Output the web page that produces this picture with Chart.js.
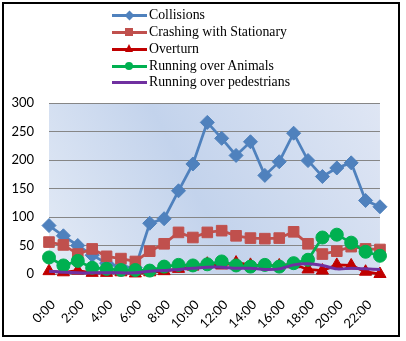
<!DOCTYPE html>
<html>
<head>
<meta charset="utf-8">
<script src="https://cdn.jsdelivr.net/npm/chart.js@4/dist/chart.umd.min.js"></script>
<style>
  html, body { margin: 0; padding: 0; background: #fff; }
  #wrap { position: relative; width: 406px; height: 341px; overflow: hidden; }
  #frame { position: absolute; left: 2px; top: 2px; width: 398px; height: 335px; box-sizing: border-box; border: 2px solid #000; pointer-events: none; }
  canvas { position: absolute; left: 0; top: 0; }
  #legend { position: absolute; left: 0; top: 0; width: 406px; height: 100px; font-family: "Liberation Serif", "Times New Roman", serif; font-size: 13.8px; color: #000; }
  .ln { position: absolute; left: 112px; width: 35px; height: 3px; }
  .mk { position: absolute; }
  .tx { position: absolute; left: 149px; white-space: nowrap; line-height: 16px; }
</style>
</head>
<body>
<div id="wrap">
  <canvas id="c" width="406" height="341"></canvas>
  <div id="legend"></div>
  <div id="frame"></div>
</div>
<script>
const hours = ["0:00","1:00","2:00","3:00","4:00","5:00","6:00","7:00","8:00","9:00","10:00","11:00",
               "12:00","13:00","14:00","15:00","16:00","17:00","18:00","19:00","20:00","21:00","22:00","23:00"];
const seriesNames = ["Collisions","Crashing with Stationary","Overturn","Running over Animals","Running over pedestrians"];
const collisions  = [85, 67, 50, 33, 19, 13, 11, 89, 97, 146, 193, 266, 238, 208, 232, 173, 197, 247, 199, 171, 186, 195, 129, 118];
const crashing    = [56, 51, 35, 44, 31, 27, 22, 40, 53, 73, 64, 73, 76, 67, 63, 62, 63, 74, 53, 35, 40, 48, 44, 43];
const overturn    = [5, 3, 6, 2, 2, 3, 1, 3, 5, 9, 13, 18, 15, 20, 16, 14, 15, 17, 8, 6, 16, 15, 4, 0];
const animals     = [29, 15, 23, 11, 9, 7, 7, 6, 13, 16, 15, 17, 22, 15, 13, 16, 13, 19, 25, 64, 69, 55, 39, 32];
const pedestrians = [5, 3, 2, 2, 2, 2, 2, 5, 6, 8, 10, 12, 12, 10, 10, 8, 9, 16, 18, 15, 9, 10, 9, 8];
const yTicks = [0, 50, 100, 150, 200, 250, 300];

const colors = ["#4f81bd", "#c0504d", "#c00000", "#00b050", "#7030a0"];
const styles = ["rectRot", "rect", "triangle", "circle", false];
const radii  = [7, 7.5, 7, 6.5, 0];
const values = [collisions, crashing, overturn, animals, pedestrians];

// HTML legend
const legend = document.getElementById("legend");
const rowY = [15, 32, 49, 66, 82];
seriesNames.forEach((name, i) => {
  const cy = rowY[i];
  const ln = document.createElement("div");
  ln.className = "ln"; ln.style.top = (cy - 1.5) + "px"; ln.style.background = colors[i];
  legend.appendChild(ln);
  const mk = document.createElement("div");
  mk.className = "mk";
  const cx = 129;
  if (styles[i] === "rectRot") {
    Object.assign(mk.style, {left: (cx - 3.5) + "px", top: (cy - 3.5) + "px", width: "7px", height: "7px", background: colors[i], transform: "rotate(45deg)"});
  } else if (styles[i] === "rect") {
    Object.assign(mk.style, {left: (cx - 4) + "px", top: (cy - 4) + "px", width: "8px", height: "8px", background: colors[i]});
  } else if (styles[i] === "triangle") {
    Object.assign(mk.style, {left: (cx - 4.5) + "px", top: (cy - 5) + "px", width: "0", height: "0",
      borderLeft: "4.5px solid transparent", borderRight: "4.5px solid transparent", borderBottom: "8px solid " + colors[i]});
  } else if (styles[i] === "circle") {
    Object.assign(mk.style, {left: (cx - 4) + "px", top: (cy - 4) + "px", width: "8px", height: "8px", background: colors[i], borderRadius: "50%"});
  }
  if (styles[i]) legend.appendChild(mk);
  const tx = document.createElement("div");
  tx.className = "tx"; tx.style.top = (cy - 8) + "px"; tx.textContent = name;
  legend.appendChild(tx);
});

const bgPlugin = {
  id: "plotBg",
  beforeDraw(chart) {
    const a = chart.chartArea, ctx = chart.ctx;
    const g = ctx.createLinearGradient(a.left, a.bottom, a.right, a.top);
    g.addColorStop(0, "#e4ebf6");
    g.addColorStop(0.45, "#c3d3ec");
    g.addColorStop(1, "#dfe6f4");
    ctx.save();
    ctx.fillStyle = g;
    ctx.fillRect(a.left, a.top, a.right - a.left, a.bottom - a.top);
    ctx.restore();
  }
};

const datasets = seriesNames.map((name, i) => ({
  label: name,
  data: values[i],
  borderColor: colors[i],
  backgroundColor: colors[i],
  borderWidth: i === 4 ? 3 : 2.75,
  pointStyle: styles[i],
  pointRadius: radii[i],
  pointBorderWidth: 1,
  pointBorderColor: colors[i],
  tension: i === 4 ? 0.3 : 0,
  order: 5 - i,
  clip: false
}));

new Chart(document.getElementById("c"), {
  type: "line",
  data: { labels: hours, datasets },
  options: {
    responsive: false,
    animation: false,
    layout: { padding: { top: 103, right: 20, left: 0, bottom: 0 } },
    plugins: { legend: { display: false }, tooltip: { enabled: false } },
    scales: {
      x: {
        grid: { display: false },
        border: { display: false },
        ticks: {
          autoSkip: false, maxRotation: 45, minRotation: 45, padding: 15, labelOffset: 4,
          color: "#000", font: { family: "Lato, 'Liberation Sans', sans-serif", size: 13 },
          callback: (v, i) => (i % 2 === 0 ? hours[i] : "")
        },
        afterFit: s => { s.height = 67; }
      },
      y: {
        min: yTicks[0], max: yTicks[yTicks.length - 1],
        afterBuildTicks: s => { s.ticks = yTicks.map(v => ({ value: v })); },
        grid: { color: "#868686", drawTicks: false, lineWidth: 1 },
        border: { display: false },
        ticks: { padding: 15, color: "#000", font: { family: "Lato, 'Liberation Sans', sans-serif", size: 13 } },
        afterFit: s => { s.width = 49; }
      }
    }
  },
  plugins: [bgPlugin]
});
</script>
</body>
</html>
